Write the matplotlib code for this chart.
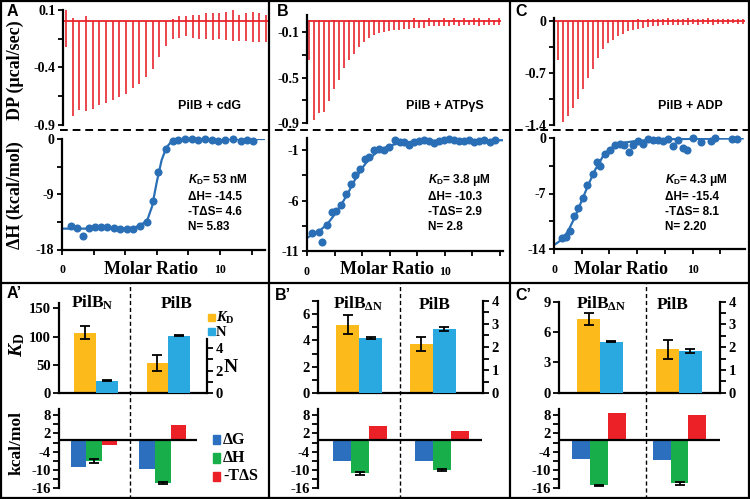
import numpy as np
import matplotlib
matplotlib.use("Agg")
import matplotlib.pyplot as plt
from matplotlib.lines import Line2D
from matplotlib.patches import Rectangle

plt.rcParams['font.family'] = ['Liberation Serif', 'DejaVu Serif']
plt.rcParams['font.weight'] = 'bold'
plt.rcParams['axes.unicode_minus'] = False
plt.rcParams['mathtext.fontset'] = 'custom'
plt.rcParams['mathtext.rm'] = 'Liberation Serif:bold'
plt.rcParams['mathtext.it'] = 'Liberation Serif:bold:italic'
plt.rcParams['mathtext.bf'] = 'Liberation Serif:bold'
plt.rcParams['mathtext.sf'] = 'Liberation Sans:bold'
plt.rcParams['mathtext.cal'] = 'Liberation Sans:bold:italic'

# ---------------- data ----------------
# raw thermograms: bottom / top of every injection peak (ucal/sec)
dp_cdg_low = [-0.22, -0.82, -0.77, -0.78, -0.76, -0.73, -0.71, -0.68, -0.66, -0.63,
              -0.58, -0.54, -0.48, -0.41, -0.31, -0.21, -0.15, -0.14, -0.13, -0.14,
              -0.15, -0.15, -0.16, -0.15, -0.16, -0.17, -0.17, -0.17, -0.18, -0.18, -0.18]
dp_cdg_high = [0.10, 0.03, 0.00, 0.05, 0.00, 0.00, 0.00, 0.00, 0.00, 0.00,
               0.00, 0.00, 0.00, 0.00, 0.00, 0.00, 0.02, 0.05, 0.05, 0.06,
               0.06, 0.07, 0.07, 0.07, 0.08, 0.10, 0.06, 0.07, 0.08, 0.07, 0.06]
dp_atp_low = [-0.35, -0.87, -0.81, -0.80, -0.71, -0.60, -0.52, -0.42, -0.35, -0.29,
              -0.23, -0.19, -0.15, -0.13, -0.11, -0.10, -0.09, -0.08, -0.08, -0.07,
              -0.07, -0.06, -0.06, -0.06, -0.05, -0.05, -0.05, -0.05, -0.05, -0.04,
              -0.05, -0.04, -0.04, -0.04, -0.05, -0.04, -0.04, -0.04, -0.04]
dp_atp_high = [0.01, 0.0, 0.01, 0.0, 0.0, 0.01, 0.0, 0.0, 0.01, 0.0,
               0.0, 0.01, 0.0, 0.01, 0.0, 0.01, 0.0, 0.01, 0.01, 0.0,
               0.01, 0.02, 0.01, 0.01, 0.02, 0.01, 0.01, 0.02, 0.01, 0.02,
               0.01, 0.02, 0.01, 0.02, 0.02, 0.01, 0.02, 0.01, 0.02]
dp_adp_low = [-0.53, -1.36, -1.28, -1.17, -1.05, -0.92, -0.77, -0.64, -0.50, -0.38,
              -0.30, -0.25, -0.20, -0.17, -0.14, -0.12, -0.11, -0.09, -0.08, -0.07,
              -0.07, -0.06, -0.06, -0.05, -0.06, -0.05, -0.05, -0.04, -0.05, -0.04,
              -0.04, -0.05, -0.04, -0.04, -0.04, -0.03, -0.04, -0.04]
dp_adp_high = [0.0, 0.0, 0.0, 0.0, 0.0, 0.0, 0.0, 0.0, 0.01, 0.0,
               0.01, 0.0, 0.01, 0.01, 0.0, 0.01, 0.02, 0.01, 0.02, 0.03,
               0.02, 0.03, 0.04, 0.02, 0.03, 0.02, 0.04, 0.03, 0.02, 0.03,
               0.04, 0.02, 0.03, 0.02, 0.03, 0.02, 0.03, 0.02]

# integrated heats (kcal/mol) vs molar ratio, with fitted curves
ratio_cdg = [0.55, 0.93, 1.31, 1.73, 2.09, 2.45, 2.87, 3.29, 3.67, 4.09, 4.51, 4.94, 5.36, 5.74, 6.10,
             6.58, 7.00, 7.37, 7.79, 8.21, 8.63, 9.05, 9.47, 9.89, 10.30, 10.80, 11.30, 11.70, 12.10]
heat_cdg = [-14.1, -14.5, -15.8, -14.5, -14.3, -14.3, -14.3, -14.5, -14.7, -14.6, -14.6, -14.1, -13.5, -10.1, -5.4,
            -1.6, -0.3, -0.2, 0.0, 0.0, -0.2, 0.0, -0.1, -0.3, -0.1, 0.0, -0.3, -0.2, -0.3]
fit_ratio_cdg = [0, 4.0, 4.6, 5.0, 5.4, 5.7, 6.0, 6.3, 6.6, 6.9, 7.3, 8.0, 12.8]
fit_heat_cdg = [-14.6, -14.6, -14.4, -14.0, -13.2, -11.0, -7.0, -3.5, -1.4, -0.5, -0.15, -0.05, 0.0]

ratio_atp = [0.36, 0.85, 1.09, 1.45, 1.82, 2.13, 2.50, 2.84, 3.20, 3.51, 3.88, 4.19, 4.53, 4.90, 5.26, 5.62,
             5.94, 6.37, 6.74, 7.08, 7.39, 7.76, 8.12, 8.48, 8.85, 9.21, 9.58, 9.94, 10.30, 10.67, 11.03,
             11.40, 11.76, 12.12, 12.49, 12.85, 13.30, 13.70]
heat_atp = [-9.2, -9.1, -10.1, -8.4, -7.1, -7.0, -6.4, -5.4, -4.4, -3.5, -2.9, -1.85, -1.7, -1.0, -0.9, -1.0,
            -0.65, 0.0, -0.2, -0.2, -0.5, -0.15, -0.1, 0.0, -0.1, -0.3, -0.1, 0.0, 0.1, 0.0, -0.1,
            -0.1, 0.0, -0.15, -0.1, 0.0, -0.2, 0.0]
fit_ratio_atp = [0, 0.5, 1, 1.5, 2, 2.5, 3, 3.5, 4, 4.5, 5, 5.5, 6, 7, 8, 10, 14.2]
fit_heat_atp = [-9.7, -9.3, -8.9, -8.3, -7.4, -6.4, -5.2, -3.9, -2.8, -1.9, -1.3, -0.9, -0.55, -0.25, -0.12, -0.05, -0.02]

ratio_adp = [0.55, 0.87, 1.15, 1.44, 1.75, 2.07, 2.40, 2.79, 3.08, 3.32, 3.68, 4.04, 4.40, 4.76, 5.05, 5.41, 5.72,
             6.08, 6.44, 6.80, 7.16, 7.52, 7.88, 8.24, 8.60, 8.96, 9.32, 9.60, 9.99, 10.6, 11.3, 11.6, 12.8, 13.2]
heat_adp = [-12.6, -12.5, -11.7, -9.9, -8.8, -7.6, -5.9, -4.6, -3.0, -3.5, -2.0, -1.5, -0.85, -0.75, -0.85, -1.8, -0.85,
            -0.4, -0.75, -0.15, -0.25, -0.25, -0.35, -0.15, -1.0, -0.25, -1.3, -1.55, 0.05, -0.5, -0.4, 0.05, -0.1, -0.1]
fit_ratio_adp = [0, 0.5, 1.0, 1.5, 2.0, 2.5, 3.0, 3.5, 4.0, 4.5, 5.0, 6.0, 8.0, 13.6]
fit_heat_adp = [-13.5, -12.9, -11.8, -10.0, -7.9, -5.8, -3.9, -2.4, -1.4, -0.9, -0.6, -0.35, -0.15, -0.05]

itc_titles = ["PilB + cdG", "PilB + ATP\u03b3S", "PilB + ADP"]
itc_kd = ["53 nM", "3.8 \u03bcM", "4.3 \u03bcM"]
itc_dh = ["-14.5", "-10.3", "-15.4"]
itc_tds = ["4.6", "2.9", "8.1"]
itc_n = ["5.83", "2.8", "2.20"]

# summary bars
constructs = [["PilB$_\\mathrm{N}$", "PilB"], ["PilB$_\\mathrm{\u0394N}$", "PilB"], ["PilB$_\\mathrm{\u0394N}$", "PilB"]]
kd_vals = [[107, 54], [5.17, 3.73], [7.3, 4.3]]
kd_errs = [[11.7, 14], [0.72, 0.55], [0.56, 0.95]]
n_vals = [[1.1, 5.05], [2.40, 2.78], [2.24, 1.84]]
n_errs = [[0.06, 0.04], [0.05, 0.07], [0.03, 0.1]]
dg_vals = [[-9.1, -9.6], [-6.9, -7.1], [-6.5, -6.8]]
dh_vals = [[-7.0, -14.3], [-11.1, -10.0], [-15.0, -14.4]]
dh_errs = [[0.55, 0.3], [0.6, 0.3], [0.1, 0.6]]
tds_vals = [[-1.8, 4.7], [4.35, 2.9], [8.7, 7.9]]

# ---------------- layout (pixels) ----------------
W, H = 750, 499
RED = '#E8262D'
BLUE = '#2A6FB5'
ORANGE = '#FDBB1B'
CYAN = '#2AA9E0'
C_DG = '#2B6FBE'
C_DH = '#18AF4A'
C_TDS = '#EC2027'
SANS = ['Liberation Sans', 'DejaVu Sans']

dp_boxes = [(63, 10, 268, 125), (307, 15, 502, 123), (554, 18, 747, 125)]
dp_xlims = [(-0.45, 30.3), (-0.3, 38.7), (-0.74, 37.9)]
dp_ylims = [(-0.9, 0.1), (-0.9, 0.05), (-1.4, 0.04)]
dp_ticks = [[0.1, -0.15, -0.4, -0.65, -0.9], [-0.1, -0.3, -0.5, -0.7, -0.9], [0, -0.35, -0.7, -1.05, -1.4]]
dp_labels = [['0.1', '', '-0.4', '', '-0.9'], ['-0.1', '', '-0.5', '', '-0.9'], ['0', '', '-0.7', '', '-1.4']]

itc_boxes = [(62, 139, 265, 249.5), (307, 138, 503, 251), (554, 138, 745, 249)]
itc_xlims = [(0, 12.85), (0, 14.25), (0, 13.77)]
itc_ylims = [(-18, 0), (-11, 0.2), (-14, 0)]
itc_yticks = [[0, -4.5, -9, -13.5, -18], [-1, -3.5, -6, -8.5, -11], [0, -3.5, -7, -10.5, -14]]
itc_ylabels = [['0', '', '-9', '', '-18'], ['-1', '', '-6', '', '-11'], ['0', '', '-7', '', '-14']]
itc_xmax = [12, 14, 12]
title_pos = [(209, 106), (445, 106), (690, 106)]
stats_x = [188, 428, 665]
stats_y = [183, 200, 215, 230]
molar_x = [151, 387, 621]

bar_boxes = [(59.3, 302.7, 207, 393.3), (318.3, 300.7, 483.3, 393.3), (559.3, 301.7, 720, 392.7)]
bar_xlims = [(-0.508, 1.535), (-0.559, 1.689), (-0.515, 1.519)]
bar_w = [0.3, 0.313, 0.285]
kd_ylims = [(0, 160), (0, 7), (0, 9)]
kd_ticks = [[0, 50, 100, 150], list(range(0, 8)), [0, 3, 6, 9]]
kd_labels = [['0', '50', '100', '150'], ['0', '', '2', '', '4', '', '6', ''], ['0', '3', '6', '9']]
n_ylims = [(0, 7.95), (0, 4), (0, 4)]
n_top = [4.75, 4, 4]
n_ticks = [[0, 1, 2, 3, 4], list(np.arange(0, 4.01, 0.5)), list(np.arange(0, 4.01, 0.5))]
n_labels = [['0', '', '2', '', '4'], ['0', '', '1', '', '2', '', '3', '', '4'], ['0', '', '1', '', '2', '', '3', '', '4']]
name_pos = [[(92, 308), (177, 308)], [(358, 309), (435, 309)], [(601, 309), (673, 309)]]

th_boxes = [(59.3, 409, 197, 488.3), (318.3, 409, 481.7, 488.3), (559.3, 409, 720, 488.3)]
th_xlims = [(-0.5, 1.496), (-0.509, 1.484), (-0.493, 1.503)]
th_w = [0.225, 0.22, 0.22]
th_ticks = [-16, -13, -10, -7, -4, -1, 2, 5, 8]
th_labels = ['-16', '', '-10', '', '-4', '', '2', '', '8']


def px_box(l, t, r, b):
    return [l / W, 1 - b / H, (r - l) / W, (b - t) / H]


def fx(x, y):
    return x / W, 1 - y / H


def clean(ax, keep):
    for s in ['top', 'right', 'bottom', 'left']:
        ax.spines[s].set_visible(s in keep)
        ax.spines[s].set_linewidth(1.6)
    ax.patch.set_alpha(0)


fig = plt.figure(figsize=(7.5, 4.99), dpi=100)

# ---- raw thermograms ----
dp_low = [dp_cdg_low, dp_atp_low, dp_adp_low]
dp_high = [dp_cdg_high, dp_atp_high, dp_adp_high]
for i in range(3):
    ax = fig.add_axes(px_box(*dp_boxes[i]))
    inj = np.arange(len(dp_low[i]))
    ax.hlines(0, dp_xlims[i][0], inj[-1] + 0.5, color=RED, lw=1.3)
    ax.vlines(inj, dp_low[i], dp_high[i], color=RED, lw=1.2)
    ax.set_xlim(dp_xlims[i])
    ax.set_ylim(dp_ylims[i])
    ax.set_xticks([])
    ax.set_yticks(dp_ticks[i])
    ax.set_yticklabels(dp_labels[i])
    ax.tick_params(axis='y', direction='out', length=3.5, width=1.3, labelsize=10, pad=2)
    clean(ax, ['left'])

# ---- integrated heats ----
ratios = [ratio_cdg, ratio_atp, ratio_adp]
heats = [heat_cdg, heat_atp, heat_adp]
fit_r = [fit_ratio_cdg, fit_ratio_atp, fit_ratio_adp]
fit_h = [fit_heat_cdg, fit_heat_atp, fit_heat_adp]
for i in range(3):
    ax = fig.add_axes(px_box(*itc_boxes[i]))
    ax.plot(fit_r[i], fit_h[i], color=BLUE, lw=1.6, zorder=2)
    ax.plot(ratios[i], heats[i], 'o', color=BLUE, ms=5.8, mew=0, clip_on=False, zorder=3)
    ax.set_xlim(itc_xlims[i])
    ax.set_ylim(itc_ylims[i])
    xt = list(range(0, itc_xmax[i] + 1, 2))
    ax.set_xticks(xt)
    ax.set_xticklabels([str(t) if t in (0, 10) else '' for t in xt])
    ax.set_yticks(itc_yticks[i])
    ax.set_yticklabels(itc_ylabels[i])
    ax.tick_params(axis='y', direction='out', length=3.5, width=1.3, labelsize=10, pad=2)
    ax.tick_params(axis='x', direction='out', length=3.5, width=1.3, labelsize=8.5, pad=7)
    clean(ax, ['left', 'bottom'])

    fig.text(*fx(*title_pos[i]), itc_titles[i], family=SANS, fontsize=9, ha='center', va='center')
    lines = ["$\\mathcal{K}_{\\mathsf{D}}$= " + itc_kd[i], "\u0394H= " + itc_dh[i],
             "-T\u0394S= " + itc_tds[i], "N= " + itc_n[i]]
    for ln, yy in zip(lines, stats_y):
        fig.text(*fx(stats_x[i], yy), ln, family=SANS, fontsize=8.5, ha='left', va='baseline')
    fig.text(*fx(molar_x[i], 270), "Molar Ratio", fontsize=13, ha='center', va='center')

# ---- K_D / N bars ----
pos = np.arange(2)
for i in range(3):
    ax = fig.add_axes(px_box(*bar_boxes[i]))
    ax2 = ax.twinx()
    w = bar_w[i]
    ek = dict(elinewidth=1.3, capthick=1.3, ecolor='black')
    ax.bar(pos - w / 2, kd_vals[i], w, yerr=kd_errs[i], color=ORANGE, capsize=3.5, error_kw=ek)
    ax2.bar(pos + w / 2, n_vals[i], w, yerr=n_errs[i], color=CYAN, capsize=3.5, error_kw=ek)
    ax.set_xlim(bar_xlims[i])
    ax.set_ylim(kd_ylims[i])
    ax2.set_ylim(n_ylims[i])
    ax.set_xticks([])
    ax.set_yticks(kd_ticks[i])
    ax.set_yticklabels(kd_labels[i])
    ax2.set_yticks(n_ticks[i])
    ax2.set_yticklabels(n_labels[i])
    for a in (ax, ax2):
        a.tick_params(axis='y', direction='out', length=4, width=1.3, labelsize=10.5, pad=2)
    clean(ax, ['left', 'bottom'])
    clean(ax2, ['right'])
    ax2.spines['right'].set_bounds(0, n_top[i])
    for name, (xx, yy) in zip(constructs[i], name_pos[i]):
        fig.text(*fx(xx, yy), name, fontsize=12.5, ha='center', va='baseline')

# ---- thermodynamic signature bars ----
for i in range(3):
    ax = fig.add_axes(px_box(*th_boxes[i]))
    w = th_w[i]
    ax.bar(pos - w, dg_vals[i], w, color=C_DG)
    ax.bar(pos, dh_vals[i], w, yerr=dh_errs[i], color=C_DH, capsize=3.5,
           error_kw=dict(elinewidth=1.3, capthick=1.3, ecolor='black'))
    ax.bar(pos + w, tds_vals[i], w, color=C_TDS)
    ax.axhline(0, color='black', lw=1.6)
    ax.set_xlim(th_xlims[i])
    ax.set_ylim(-16, 10)
    ax.set_xticks([])
    ax.set_yticks(th_ticks)
    ax.set_yticklabels(th_labels)
    ax.tick_params(axis='y', direction='out', length=4, width=1.3, labelsize=10.5, pad=2)
    clean(ax, ['left'])

# ---- legends (A') ----
for (y, col, lab) in [(317.5, ORANGE, "$\\mathit{K}_\\mathrm{D}$"), (331, CYAN, "N")]:
    fig.add_artist(Rectangle(fx(208, y + 3.5), 6.5 / W, 7 / H, transform=fig.transFigure, color=col))
    fig.text(*fx(215.5, y + 4.5), lab, fontsize=10.5, ha='left', va='baseline')
for (y, col, lab) in [(439.5, C_DG, "\u0394G"), (458, C_DH, "\u0394H"), (476.5, C_TDS, "-T\u0394S")]:
    fig.add_artist(Rectangle(fx(213, y + 4.7), 7.5 / W, 9.5 / H, transform=fig.transFigure, color=col))
    fig.text(*fx(223, y), lab, fontsize=11.5, ha='left', va='center')

# ---- axis titles ----
fig.text(*fx(15, 70), "DP (\u03bccal/sec)", fontsize=13, rotation=90, ha='center', va='center')
fig.text(*fx(15, 195), "\u0394H (kcal/mol)", fontsize=13, rotation=90, ha='center', va='center')
fig.text(*fx(17, 345), "$\\mathit{K}_\\mathrm{D}$", fontsize=14, rotation=90, ha='center', va='center')
fig.text(*fx(17, 443), "kcal/mol", fontsize=12.5, rotation=90, ha='center', va='center')
fig.text(*fx(231, 367), "N", fontsize=14, ha='center', va='center')

# ---- panel letters ----
for lab, x, y in [("A", 7, 12), ("B", 277, 12), ("C", 515, 12),
                  ("A\u2019", 7, 294), ("B\u2019", 275, 295), ("C\u2019", 515, 295)]:
    fig.text(*fx(x, y), lab, family=SANS, fontsize=11.5, ha='left', va='center')

# ---- frame, dividers ----
frame = dict(transform=fig.transFigure, color='black', lw=1.6)
fig.add_artist(Line2D([0, 1], [fx(0, 1)[1]] * 2, **frame))
fig.add_artist(Line2D([0, 1], [fx(0, 497.5)[1]] * 2, **frame))
fig.add_artist(Line2D([1 / W] * 2, [0, 1], **frame))
fig.add_artist(Line2D([748.5 / W] * 2, [0, 1], **frame))
fig.add_artist(Line2D([0, 1], [fx(0, 283)[1]] * 2, **frame))
fig.add_artist(Line2D([269 / W] * 2, [0, 1], **frame))
fig.add_artist(Line2D([510 / W] * 2, [0, 1], **frame))
fig.add_artist(Line2D([60 / W, 748 / W], [fx(0, 130)[1]] * 2, transform=fig.transFigure,
                      color='black', lw=1.4, dashes=(4, 2.5)))
for x in [130, 400, 646]:
    fig.add_artist(Line2D([x / W] * 2, [0, fx(0, 283)[1]], transform=fig.transFigure,
                          color='black', lw=1.0, dashes=(3, 2)))

fig.savefig('out.png', dpi=100)
